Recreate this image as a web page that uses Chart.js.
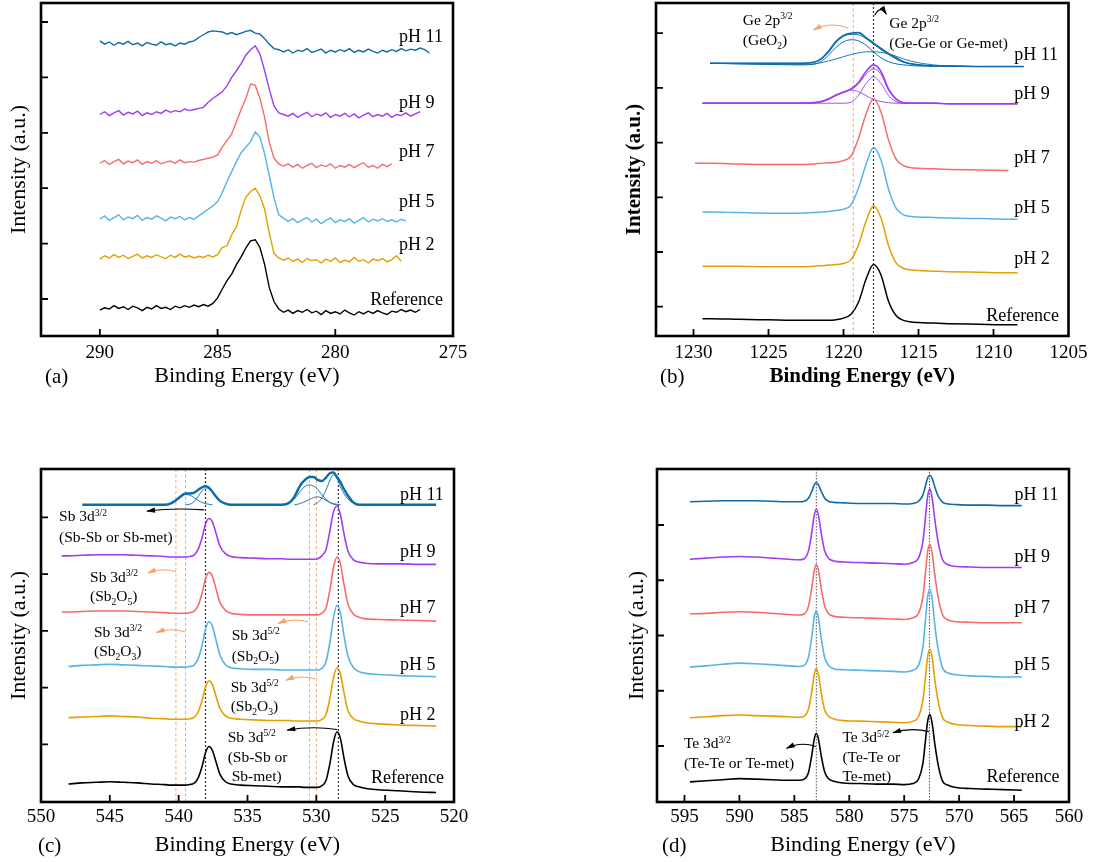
<!DOCTYPE html>
<html>
<head>
<meta charset="utf-8">
<script src="https://cdn.jsdelivr.net/npm/chart.js@4.4.1/dist/chart.umd.min.js"></script>
<style>
  html, body { margin: 0; padding: 0; background: #fff; }
  #wrap { position: relative; width: 1093px; height: 862px; overflow: hidden; }
  #wrap canvas { position: absolute; }
</style>
</head>
<body>
<div id="wrap">
  <canvas id="panelA" width="546" height="431" style="left:0px;top:0px"></canvas>
  <canvas id="panelB" width="547" height="431" style="left:546px;top:0px"></canvas>
  <canvas id="panelC" width="546" height="431" style="left:0px;top:431px"></canvas>
  <canvas id="panelD" width="547" height="431" style="left:546px;top:431px"></canvas>
</div>
<script>
// ---------- (a) C 1s region ----------
const aEnergy = [290.0,289.8,289.6,289.4,289.2,289.0,288.8,288.6,288.4,288.2,
  288.0,287.8,287.6,287.4,287.2,287.0,286.8,286.6,286.4,286.2,
  286.0,285.8,285.6,285.4,285.2,285.0,284.8,284.6,284.4,284.2,
  284.0,283.8,283.6,283.4,283.2,283.0,282.8,282.6,282.4,282.2,
  282.0,281.8,281.6,281.4,281.2,281.0,280.8,280.6,280.4,280.2,
  280.0,279.8,279.6,279.4,279.2,279.0,278.8,278.6,278.4,278.2,
  278.0,277.8,277.6,277.4,277.2,277.0,276.8,276.6,276.4,276.2,276.0];
const aRef = [-0.20,-0.16,-0.18,-0.12,-0.17,-0.14,-0.19,-0.13,-0.16,-0.21,
  -0.15,-0.18,-0.12,-0.17,-0.15,-0.19,-0.13,-0.16,-0.12,-0.15,
  -0.11,-0.14,-0.10,-0.13,-0.08,0.02,0.18,0.33,0.45,0.62,
  0.76,0.92,1.05,1.07,0.93,0.62,0.20,-0.05,-0.18,-0.24,
  -0.20,-0.26,-0.21,-0.24,-0.19,-0.25,-0.22,-0.28,-0.21,-0.26,
  -0.23,-0.27,-0.20,-0.25,-0.29,-0.23,-0.27,-0.22,-0.26,-0.21,
  -0.25,-0.28,-0.22,-0.24,-0.19,-0.23,-0.20,-0.24,-0.19];
const aPH2 = [0.72,0.78,0.74,0.80,0.75,0.79,0.73,0.77,0.81,0.74,
  0.78,0.75,0.80,0.76,0.73,0.79,0.75,0.81,0.76,0.78,
  0.74,0.77,0.75,0.79,0.76,0.80,0.93,0.96,1.16,1.30,
  1.60,1.84,1.94,2.00,1.86,1.62,1.18,0.82,0.74,0.70,
  0.74,0.68,0.72,0.66,0.73,0.69,0.71,0.65,0.72,0.68,
  0.74,0.66,0.70,0.67,0.75,0.68,0.71,0.65,0.72,0.69,
  0.73,0.67,0.71,0.78,0.68];
const aPH5 = [1.44,1.50,1.42,1.47,1.52,1.43,1.48,1.45,1.51,1.42,
  1.47,1.44,1.50,1.46,1.41,1.48,1.45,1.49,1.43,1.47,
  1.44,1.50,1.56,1.62,1.68,1.76,1.92,2.12,2.30,2.48,
  2.64,2.74,2.84,3.02,2.92,2.62,2.22,1.82,1.52,1.46,
  1.40,1.45,1.38,1.43,1.47,1.39,1.44,1.36,1.42,1.46,
  1.38,1.43,1.40,1.45,1.37,1.42,1.47,1.39,1.44,1.41,
  1.45,1.40,1.43,1.39,1.44,1.41];
const aPH7 = [2.45,2.50,2.43,2.48,2.52,2.44,2.49,2.46,2.51,2.43,
  2.48,2.45,2.50,2.44,2.47,2.49,2.45,2.51,2.46,2.48,
  2.47,2.50,2.52,2.54,2.56,2.60,2.74,2.86,2.98,3.20,
  3.42,3.62,3.88,3.86,3.62,3.28,2.82,2.54,2.44,2.40,
  2.44,2.38,2.43,2.36,2.41,2.45,2.37,2.42,2.39,2.44,
  2.36,2.41,2.38,2.43,2.37,2.42,2.46,2.38,2.41,2.36,
  2.43,2.39,2.44];
const aPH9 = [3.33,3.38,3.31,3.36,3.40,3.32,3.37,3.34,3.39,3.31,
  3.36,3.33,3.38,3.35,3.41,3.37,3.40,3.38,3.43,3.40,
  3.42,3.44,3.46,3.55,3.62,3.68,3.74,3.85,4.00,4.12,
  4.25,4.40,4.50,4.57,4.42,4.12,3.78,3.48,3.36,3.33,
  3.30,3.35,3.28,3.33,3.37,3.29,3.34,3.31,3.36,3.28,
  3.33,3.30,3.35,3.29,3.34,3.27,3.32,3.36,3.29,3.33,
  3.30,3.35,3.28,3.33,3.31,3.36,3.30,3.34,3.38];
const aPH11 = [4.66,4.60,4.64,4.58,4.63,4.60,4.65,4.59,4.62,4.57,
  4.63,4.60,4.58,4.64,4.59,4.61,4.57,4.62,4.60,4.64,
  4.66,4.72,4.77,4.82,4.84,4.83,4.82,4.78,4.81,4.77,
  4.80,4.83,4.85,4.80,4.78,4.70,4.60,4.52,4.50,4.46,
  4.50,4.44,4.49,4.47,4.52,4.45,4.48,4.51,4.44,4.49,
  4.46,4.50,4.47,4.52,4.45,4.49,4.46,4.51,4.47,4.44,
  4.49,4.46,4.50,4.47,4.52,4.48,4.51,4.49,4.53,4.50,4.44];

// ---------- (b) Ge 2p3/2 region ----------
const bEnergy = [1229.9,1229.4,1228.9,1227,1225,1223,1222,1221.5,1221,1220.5,1220,1219.5,1219,
  1218.5,1218,1217.5,1217,1216.5,1216,1215.5,1215,1214,1213,1211,1209,1208.4,1208.0];
const bRef = [null,-0.22,-0.22,-0.23,-0.24,-0.25,-0.25,-0.25,-0.25,-0.24,-0.21,-0.14,0.08,
  0.50,0.77,0.58,0.10,-0.16,-0.25,-0.28,-0.29,-0.30,-0.31,-0.32,-0.33,-0.33,null];
const bPH2 = [null,0.74,0.74,0.74,0.73,0.73,0.74,0.75,0.76,0.77,0.79,0.86,1.13,
  1.56,1.84,1.62,1.12,0.80,0.70,0.67,0.66,0.65,0.64,0.63,0.62,0.62,null];
const bPH5 = [null,1.73,1.73,1.72,1.71,1.71,1.72,1.73,1.74,1.76,1.78,1.86,2.17,
  2.60,2.91,2.68,2.15,1.80,1.68,1.65,1.64,1.63,1.62,1.61,1.60,1.60,null];
const bPH7 = [2.62,2.62,2.62,2.61,2.60,2.60,2.61,2.62,2.63,2.64,2.67,2.75,3.08,
  3.52,3.80,3.56,3.05,2.70,2.58,2.54,2.53,2.52,2.51,2.50,2.49,null,null];
const bPH9 = [null,3.72,3.72,3.72,3.72,3.72,3.73,3.75,3.80,3.87,3.92,3.98,4.10,
  4.30,4.42,4.30,3.98,3.80,3.73,3.72,3.72,3.72,3.71,3.71,3.71,3.71,null];
const bPH9Fit = [null,3.72,3.72,3.72,3.72,3.72,3.73,3.75,3.79,3.86,3.92,3.97,4.07,
  4.25,4.35,4.25,3.96,3.79,3.73,3.72,3.72,3.72,3.71,3.71,3.71,3.71,null];
const bPH9Oxide = [null,3.72,3.72,3.72,3.72,3.72,3.72,3.74,3.79,3.86,3.93,3.96,3.93,
  3.86,3.79,3.75,3.73,3.72,3.72,3.72,3.72,3.72,3.71,3.71,3.71,3.71,null];
const bPH9Metal = [null,3.72,3.72,3.72,3.72,3.72,3.72,3.72,3.72,3.72,3.72,3.74,3.86,
  4.08,4.20,4.08,3.86,3.75,3.72,3.72,3.72,3.72,3.71,3.71,3.71,3.71,null];
const bPH11 = [null,null,4.45,4.45,4.45,4.45,4.47,4.53,4.67,4.85,4.96,5.00,5.01,
  4.92,4.82,4.72,4.63,4.55,4.48,4.44,4.42,4.40,4.40,4.39,4.39,4.39,4.39];
const bPH11Fit = [null,null,4.45,4.45,4.45,4.45,4.47,4.52,4.65,4.83,4.94,4.98,4.97,
  4.90,4.80,4.70,4.61,4.53,4.47,4.44,4.42,4.40,4.40,4.39,4.39,4.39,4.39];
const bPH11Oxide = [null,null,4.45,4.44,4.43,4.42,4.43,4.48,4.60,4.74,4.84,4.88,4.86,
  4.78,4.66,4.55,4.48,4.44,4.42,4.41,4.40,4.40,4.40,4.39,4.39,4.39,4.39];
const bPH11Metal = [null,null,4.45,4.44,4.43,4.43,4.44,4.46,4.49,4.53,4.57,4.61,4.64,
  4.66,4.66,4.65,4.62,4.58,4.53,4.49,4.46,4.42,4.40,4.39,4.39,4.39,4.39];

// ---------- (c) Sb 3d / O 1s region ----------
const cEnergy = [548.5,548.0,547.0,546.0,545.0,544.0,543.0,542.0,541.0,540.6,
  540.2,539.8,539.5,539.2,538.9,538.6,538.3,538.05,537.8,537.55,
  537.3,537.0,536.6,536.2,535.5,534.5,533.5,532.5,532.0,531.6,
  531.2,530.9,530.5,530.2,529.9,529.6,529.3,529.0,528.75,528.5,
  528.25,528.0,527.7,527.3,526.9,526.4,525.5,524.0,522.5,521.3];
const cRef = [null,-0.70,-0.68,-0.67,-0.66,-0.67,-0.68,-0.70,-0.71,-0.72,
  -0.72,-0.72,-0.72,-0.71,-0.69,-0.60,-0.39,-0.15,-0.04,-0.11,
  -0.30,-0.53,-0.66,-0.70,-0.72,-0.73,-0.74,-0.75,-0.75,-0.75,
  -0.75,-0.76,-0.76,-0.76,-0.76,-0.73,-0.64,-0.32,0.04,0.22,
  0.10,-0.23,-0.56,-0.71,-0.75,-0.78,-0.80,-0.82,-0.84,-0.85];
const cPH2 = [null,0.47,0.48,0.49,0.50,0.49,0.48,0.46,0.45,0.44,
  0.44,0.44,0.44,0.45,0.47,0.56,0.77,1.01,1.12,1.05,
  0.86,0.63,0.50,0.46,0.44,0.43,0.42,0.42,0.42,0.41,
  0.41,0.41,0.41,0.41,0.41,0.44,0.52,0.83,1.18,1.35,
  1.24,0.92,0.59,0.45,0.41,0.38,0.36,0.34,0.33,0.32];
const cPH5 = [null,1.37,1.39,1.40,1.41,1.40,1.39,1.38,1.37,1.36,
  1.36,1.36,1.36,1.37,1.39,1.50,1.74,2.03,2.16,2.08,
  1.85,1.57,1.40,1.35,1.33,1.32,1.32,1.31,1.31,1.31,
  1.31,1.31,1.31,1.31,1.31,1.34,1.45,1.82,2.24,2.45,
  2.31,1.93,1.55,1.35,1.28,1.25,1.23,1.21,1.20,1.19];
const cPH7 = [2.33,2.33,2.34,2.35,2.35,2.35,2.34,2.33,2.32,2.31,
  2.31,2.31,2.31,2.32,2.34,2.44,2.66,2.92,3.03,2.96,
  2.75,2.50,2.36,2.31,2.29,2.28,2.28,2.28,2.28,2.28,
  2.28,2.28,2.28,2.28,2.28,2.31,2.40,2.74,3.12,3.30,
  3.18,2.83,2.47,2.29,2.24,2.21,2.20,2.19,2.18,2.17];
const cPH9 = [3.32,3.32,3.33,3.34,3.34,3.34,3.33,3.32,3.31,3.30,
  3.30,3.30,3.30,3.31,3.33,3.43,3.64,3.88,3.98,3.92,
  3.73,3.49,3.36,3.31,3.29,3.28,3.27,3.27,3.26,3.26,
  3.26,3.26,3.26,3.26,3.27,3.32,3.43,3.78,4.10,4.20,
  4.05,3.72,3.40,3.25,3.21,3.19,3.18,3.18,3.17,3.17];
const cPH11 = [null,null,4.22,4.22,4.22,4.22,4.22,4.22,4.22,4.24,
  4.30,4.38,4.42,4.42,4.43,4.48,4.53,4.55,4.52,4.45,
  4.37,4.29,4.24,4.22,4.22,4.22,4.22,4.22,4.25,4.36,
  4.55,4.64,4.71,4.71,4.66,4.64,4.70,4.78,4.79,4.71,
  4.62,4.50,4.38,4.26,4.22,4.22,4.22,4.22,4.22,4.22];
// fitted components of pH 11, each starting at the given cEnergy index
const cPH11Comp1 = [4.22,4.24,4.29,4.36,4.40,4.39,4.35,4.30,4.26,4.24,4.23,4.22];
const cPH11Comp2 = [4.22,4.23,4.27,4.36,4.47,4.52,4.50,4.44,4.36,4.28,4.24,4.22,4.22];
const cPH11Comp3 = [4.22,4.24,4.32,4.45,4.53,4.57,4.55,4.49,4.40,4.32,4.26,4.23,4.22];
const cPH11Comp4 = [4.22,4.24,4.27,4.31,4.35,4.36,4.34,4.30,4.26,4.24,4.23,4.22];
const cPH11Comp5 = [4.22,4.26,4.34,4.48,4.66,4.75,4.68,4.54,4.42,4.32,4.25,4.22];
const cCompStart = [8, 12, 27, 29, 33];

// ---------- (d) Te 3d region ----------
const dEnergy = [594.5,593,591.5,590,588.5,587,585.5,584.6,584.1,583.7,
  583.4,583.2,583.0,582.8,582.55,582.25,581.9,581.4,580.5,579,
  577.5,576,575,574.2,573.7,573.3,573.05,572.85,572.65,572.45,
  572.2,571.9,571.5,571,570.3,569,567.5,566,564.3];
const dRef = [-0.65,-0.63,-0.61,-0.59,-0.60,-0.61,-0.62,-0.62,-0.60,-0.47,
  -0.15,0.11,0.23,0.12,-0.18,-0.46,-0.59,-0.64,-0.67,-0.68,
  -0.69,-0.69,-0.70,-0.68,-0.60,-0.32,0.13,0.47,0.57,0.40,
  0.02,-0.35,-0.64,-0.71,-0.75,-0.77,-0.78,-0.79,-0.80];
const dPH2 = [0.51,0.53,0.55,0.56,0.55,0.54,0.53,0.52,0.54,0.68,
  1.00,1.28,1.40,1.28,0.96,0.66,0.54,0.49,0.46,0.45,
  0.44,0.43,0.42,0.45,0.53,0.82,1.28,1.64,1.75,1.59,
  1.18,0.80,0.51,0.43,0.39,0.37,0.36,0.35,0.35];
const dPH5 = [1.43,1.45,1.48,1.50,1.49,1.47,1.45,1.44,1.46,1.62,
  2.00,2.32,2.45,2.31,1.95,1.61,1.46,1.40,1.38,1.37,
  1.36,1.35,1.34,1.37,1.46,1.79,2.31,2.72,2.84,2.65,
  2.17,1.74,1.41,1.32,1.29,1.27,1.26,1.25,1.25];
const dPH7 = [2.39,2.40,2.42,2.43,2.42,2.40,2.38,2.37,2.39,2.54,
  2.88,3.16,3.29,3.17,2.85,2.54,2.40,2.35,2.33,2.32,
  2.31,2.30,2.29,2.32,2.40,2.70,3.17,3.54,3.65,3.48,
  3.08,2.68,2.37,2.28,2.25,2.24,2.23,2.23,2.23];
const dPH9 = [3.38,3.40,3.42,3.43,3.42,3.40,3.38,3.37,3.39,3.54,
  3.88,4.16,4.29,4.17,3.85,3.54,3.40,3.35,3.33,3.32,
  3.31,3.30,3.29,3.32,3.40,3.70,4.17,4.54,4.65,4.48,
  4.08,3.68,3.37,3.28,3.25,3.24,3.23,3.23,3.23];
const dPH11 = [4.42,4.43,4.44,4.44,4.44,4.43,4.42,4.42,4.43,4.49,
  4.61,4.72,4.77,4.72,4.61,4.49,4.43,4.41,4.40,4.39,
  4.39,4.39,4.38,4.39,4.43,4.54,4.72,4.86,4.90,4.84,
  4.68,4.52,4.41,4.38,4.37,4.36,4.36,4.35,4.35];

const seriesNames = ['Reference', 'pH 2', 'pH 5', 'pH 7', 'pH 9', 'pH 11'];

const COLORS = {
  ref: '#000000', ph2: '#E69F00', ph5: '#56B4E9',
  ph7: '#F76B6B', ph9: '#A03CF2', ph11: '#0B6CAC',
  guideOrange: '#F5A46E', guideBlack: '#333333'
};
const FONT = '"Liberation Serif", "Times New Roman", Times, serif';

function series(energy, values, color, width, smooth) {
  const pts = values.map((v, i) => ({ x: energy[i], y: v }));
  const ds = { data: pts, borderColor: color, borderWidth: width, pointRadius: 0, fill: false };
  if (smooth) ds.cubicInterpolationMode = 'monotone';
  else ds.tension = 0;
  return ds;
}

function parseRich(str) {
  const out = [];
  const re = /\^\{([^}]*)\}|_\{([^}]*)\}|([^^_]+)/g;
  let m;
  while ((m = re.exec(str))) {
    if (m[1] !== undefined) out.push([m[1], 'sup']);
    else if (m[2] !== undefined) out.push([m[2], 'sub']);
    else out.push([m[3], '']);
  }
  return out;
}

function drawRich(ctx, x, y, str, size) {
  let cx = x;
  parseRich(str).forEach(([txt, mode]) => {
    let s = size, dy = 0;
    if (mode === 'sup') { s = size * 0.62; dy = -size * 0.36; }
    if (mode === 'sub') { s = size * 0.62; dy = size * 0.22; }
    ctx.font = s + 'px ' + FONT;
    ctx.fillText(txt, cx, y + dy);
    cx += ctx.measureText(txt).width;
  });
}

function drawArrow(ctx, x1, y1, x2, y2, bulge, color) {
  const mx = (x1 + x2) / 2, my = (y1 + y2) / 2 - bulge;
  ctx.strokeStyle = color; ctx.fillStyle = color;
  ctx.lineWidth = 1.1; ctx.setLineDash([]);
  ctx.beginPath(); ctx.moveTo(x1, y1); ctx.quadraticCurveTo(mx, my, x2, y2); ctx.stroke();
  const ang = Math.atan2(y2 - my, x2 - mx);
  const L = 8, W = 2.6;
  ctx.beginPath();
  ctx.moveTo(x2 + Math.cos(ang), y2 + Math.sin(ang));
  ctx.lineTo(x2 - L * Math.cos(ang) + W * Math.sin(ang), y2 - L * Math.sin(ang) - W * Math.cos(ang));
  ctx.lineTo(x2 - L * Math.cos(ang) - W * Math.sin(ang), y2 - L * Math.sin(ang) + W * Math.cos(ang));
  ctx.closePath(); ctx.fill();
}

const decor = {
  id: 'decor',
  beforeDatasetsDraw(chart, args, opts) {
    const { ctx, chartArea: a, scales: { x } } = chart;
    ctx.save();
    (opts.vlines || []).forEach(v => {
      const px = x.getPixelForValue(v.at);
      ctx.strokeStyle = v.color; ctx.lineWidth = v.width; ctx.setLineDash(v.dash);
      ctx.beginPath(); ctx.moveTo(px, a.top); ctx.lineTo(px, a.bottom); ctx.stroke();
    });
    ctx.restore();
  },
  afterDatasetsDraw(chart, args, opts) {
    const { ctx, chartArea: a, scales: { x, y } } = chart;
    ctx.save();
    ctx.setLineDash([]);
    ctx.strokeStyle = '#000'; ctx.lineWidth = 2.6;
    ctx.strokeRect(a.left, a.top, a.right - a.left, a.bottom - a.top);
    // inward tick marks
    ctx.lineWidth = 1.8;
    ctx.beginPath();
    x.ticks.forEach(t => {
      const px = x.getPixelForValue(t.value);
      if (px < a.left + 3 || px > a.right - 3) return;
      ctx.moveTo(px, a.bottom); ctx.lineTo(px, a.bottom - 7);
    });
    y.ticks.forEach(t => {
      const py = y.getPixelForValue(t.value);
      if (py < a.top + 3 || py > a.bottom - 3) return;
      ctx.moveTo(a.left, py); ctx.lineTo(a.left + 7, py);
    });
    ctx.stroke();

    ctx.fillStyle = '#000'; ctx.textAlign = 'left'; ctx.textBaseline = 'alphabetic';
    (opts.labels || []).forEach(l => {
      ctx.font = '18px ' + FONT;
      ctx.fillText(l.text, x.getPixelForValue(l.x), y.getPixelForValue(l.y));
    });
    (opts.notes || []).forEach(n => {
      drawRich(ctx, x.getPixelForValue(n.x), y.getPixelForValue(n.y), n.text, 15.5);
    });
    (opts.arrows || []).forEach(ar => {
      drawArrow(ctx, x.getPixelForValue(ar.from[0]), y.getPixelForValue(ar.from[1]),
        x.getPixelForValue(ar.to[0]), y.getPixelForValue(ar.to[1]), ar.bulge, ar.color);
    });
    ctx.fillStyle = '#000';
    ctx.font = '21px ' + FONT;
    ctx.fillText(opts.tag.text, opts.tag.x, opts.tag.y);
    ctx.restore();
  }
};

function makePanel(id, cfg) {
  const titleFont = { family: FONT, size: cfg.bold ? 21 : 22, weight: cfg.bold ? 'bold' : 'normal' };
  return new Chart(document.getElementById(id), {
    type: 'line',
    data: { datasets: cfg.datasets },
    options: {
      responsive: false,
      animation: false,
      devicePixelRatio: 1,
      layout: { padding: cfg.padding },
      plugins: { legend: { display: false }, tooltip: { enabled: false }, decor: cfg.decor },
      scales: {
        x: {
          type: 'linear', reverse: true, min: cfg.xMin, max: cfg.xMax,
          grid: { display: false, drawTicks: false }, border: { display: false },
          ticks: { stepSize: 5, includeBounds: false, autoSkip: false, maxRotation: 0,
                   padding: cfg.tickPad, color: '#000', font: { family: FONT, size: 19 },
                   callback: v => String(v) },
          title: { display: true, text: 'Binding Energy (eV)', color: '#000', font: titleFont,
                   padding: { top: 0, bottom: cfg.xTitlePad } },
          afterFit(s) { s.height = cfg.xH; s.paddingLeft = 0; s.paddingRight = 0; }
        },
        y: {
          min: cfg.yMin, max: cfg.yMax,
          grid: { display: false, drawTicks: false }, border: { display: false },
          ticks: { display: false, stepSize: 1, includeBounds: false },
          title: { display: true, text: 'Intensity (a.u.)', color: '#000', font: titleFont,
                   padding: { top: cfg.yTitlePad, bottom: 0 } },
          afterFit(s) { s.width = cfg.yW; }
        }
      }
    },
    plugins: [decor]
  });
}

const orangeLine = at => ({ at, color: COLORS.guideOrange, width: 1, dash: [3, 2.5] });
const blackLine = at => ({ at, color: COLORS.guideBlack, width: 1.2, dash: [2, 2] });

// (a)
makePanel('panelA', {
  xMin: 275, xMax: 292.5, yMin: -0.668, yMax: 5.343,
  padding: { left: 0, top: 3, right: 93, bottom: 0 },
  xH: 95, yW: 41, tickPad: 6, xTitlePad: 41.5, yTitlePad: 5.8,
  datasets: [
    series(aEnergy, aRef, COLORS.ref, 1.4),
    series(aEnergy, aPH2, COLORS.ph2, 1.4),
    series(aEnergy, aPH5, COLORS.ph5, 1.4),
    series(aEnergy, aPH7, COLORS.ph7, 1.4),
    series(aEnergy, aPH9, COLORS.ph9, 1.4),
    series(aEnergy, aPH11, COLORS.ph11, 1.4)
  ],
  decor: {
    tag: { text: '(a)', x: 45, y: 383 },
    labels: [
      { text: seriesNames[5], x: 277.29, y: 4.64 },
      { text: seriesNames[4], x: 277.29, y: 3.45 },
      { text: seriesNames[3], x: 277.29, y: 2.56 },
      { text: seriesNames[2], x: 277.29, y: 1.66 },
      { text: seriesNames[1], x: 277.29, y: 0.88 },
      { text: seriesNames[0], x: 278.52, y: -0.11 }
    ]
  }
});

// (b)
makePanel('panelB', {
  xMin: 1205, xMax: 1232.5, yMin: -0.536, yMax: 5.552, bold: true,
  padding: { left: 0, top: 3, right: 24.5, bottom: 0 },
  xH: 95, yW: 110, tickPad: 6, xTitlePad: 41.8, yTitlePad: 76.4,
  datasets: [
    series(bEnergy, bRef, COLORS.ref, 1.5, true),
    series(bEnergy, bPH2, COLORS.ph2, 1.5, true),
    series(bEnergy, bPH5, COLORS.ph5, 1.5, true),
    series(bEnergy, bPH7, COLORS.ph7, 1.5, true),
    series(bEnergy, bPH9, COLORS.ph9, 1.6, true),
    series(bEnergy, bPH9Fit, COLORS.ph9, 1.0, true),
    series(bEnergy, bPH9Oxide, COLORS.ph9, 0.9, true),
    series(bEnergy, bPH9Metal, COLORS.ph9, 0.9, true),
    series(bEnergy, bPH11, COLORS.ph11, 1.6, true),
    series(bEnergy, bPH11Fit, COLORS.ph11, 1.0, true),
    series(bEnergy, bPH11Oxide, COLORS.ph11, 1.0, true),
    series(bEnergy, bPH11Metal, COLORS.ph11, 0.9, true)
  ],
  decor: {
    tag: { text: '(b)', x: 114, y: 383 },
    vlines: [orangeLine(1219.35), blackLine(1218.0)],
    labels: [
      { text: seriesNames[5], x: 1208.62, y: 4.51 },
      { text: seriesNames[4], x: 1208.62, y: 3.80 },
      { text: seriesNames[3], x: 1208.62, y: 2.63 },
      { text: seriesNames[2], x: 1208.62, y: 1.72 },
      { text: seriesNames[1], x: 1208.62, y: 0.78 },
      { text: seriesNames[0], x: 1210.49, y: -0.26 }
    ],
    notes: [
      { text: 'Ge 2p^{3/2}', x: 1226.71, y: 5.15 },
      { text: '(GeO_{2})', x: 1226.71, y: 4.78 },
      { text: 'Ge 2p^{3/2}', x: 1216.95, y: 5.10 },
      { text: '(Ge-Ge or Ge-met)', x: 1216.95, y: 4.73 }
    ],
    arrows: [
      { from: [1219.66, 5.09], to: [1222.0, 5.06], bulge: 8, color: COLORS.guideOrange },
      { from: [1217.92, 5.33], to: [1217.15, 5.35], bulge: 10, color: '#000' }
    ]
  }
});

// (c)
makePanel('panelC', {
  xMin: 520, xMax: 550, yMin: -1.017, yMax: 4.851,
  padding: { left: 0, top: 38, right: 92, bottom: 0 },
  xH: 60, yW: 41, tickPad: 4, xTitlePad: 3.5, yTitlePad: 5.8,
  datasets: [
    series(cEnergy, cRef, COLORS.ref, 1.6, true),
    series(cEnergy, cPH2, COLORS.ph2, 1.6, true),
    series(cEnergy, cPH5, COLORS.ph5, 1.6, true),
    series(cEnergy, cPH7, COLORS.ph7, 1.6, true),
    series(cEnergy, cPH9, COLORS.ph9, 1.6, true),
    series(cEnergy, cPH11, COLORS.ph11, 2.4, true),
    series(cEnergy.slice(cCompStart[0]), cPH11Comp1, COLORS.ph11, 0.9, true),
    series(cEnergy.slice(cCompStart[1]), cPH11Comp2, COLORS.ph11, 0.9, true),
    series(cEnergy.slice(cCompStart[2]), cPH11Comp3, COLORS.ph11, 0.9, true),
    series(cEnergy.slice(cCompStart[3]), cPH11Comp4, COLORS.ph11, 0.9, true),
    series(cEnergy.slice(cCompStart[4]), cPH11Comp5, COLORS.ph11, 0.9, true)
  ],
  decor: {
    tag: { text: '(c)', x: 38, y: 421 },
    vlines: [orangeLine(540.2), orangeLine(539.5), orangeLine(530.5), orangeLine(530.0),
             blackLine(538.05), blackLine(528.4)],
    labels: [
      { text: seriesNames[5], x: 523.93, y: 4.30 },
      { text: seriesNames[4], x: 523.93, y: 3.30 },
      { text: seriesNames[3], x: 523.93, y: 2.31 },
      { text: seriesNames[2], x: 523.93, y: 1.31 },
      { text: seriesNames[1], x: 523.93, y: 0.43 },
      { text: seriesNames[0], x: 526.03, y: -0.68 }
    ],
    notes: [
      { text: 'Sb 3d^{3/2}', x: 548.69, y: 3.93 },
      { text: '(Sb-Sb or Sb-met)', x: 548.69, y: 3.56 },
      { text: 'Sb 3d^{3/2}', x: 546.44, y: 2.86 },
      { text: '(Sb_{2}O_{5})', x: 546.44, y: 2.52 },
      { text: 'Sb 3d^{3/2}', x: 546.15, y: 1.89 },
      { text: '(Sb_{2}O_{3})', x: 546.15, y: 1.55 },
      { text: 'Sb 3d^{5/2}', x: 536.15, y: 1.84 },
      { text: '(Sb_{2}O_{5})', x: 536.15, y: 1.47 },
      { text: 'Sb 3d^{5/2}', x: 536.22, y: 0.92 },
      { text: '(Sb_{2}O_{3})', x: 536.22, y: 0.58 },
      { text: 'Sb 3d^{5/2}', x: 536.44, y: 0.04 },
      { text: '(Sb-Sb or', x: 536.44, y: -0.31 },
      { text: 'Sb-met)', x: 536.15, y: -0.65 }
    ],
    arrows: [
      { from: [538.16, 4.13], to: [542.3, 4.11], bulge: 3, color: '#000' },
      { from: [540.2, 3.04], to: [542.23, 3.02], bulge: 5, color: COLORS.guideOrange },
      { from: [539.54, 1.98], to: [541.6, 1.97], bulge: 5, color: COLORS.guideOrange },
      { from: [530.59, 2.16], to: [532.77, 2.13], bulge: 5, color: COLORS.guideOrange },
      { from: [530.1, 1.15], to: [532.2, 1.13], bulge: 5, color: COLORS.guideOrange },
      { from: [528.48, 0.26], to: [532.11, 0.25], bulge: 4, color: '#000' }
    ]
  }
});

// (d)
makePanel('panelD', {
  xMin: 560, xMax: 597.5, yMin: -1.0136, yMax: 5.0136,
  padding: { left: 0, top: 38, right: 24, bottom: 0 },
  xH: 60, yW: 111, tickPad: 4, xTitlePad: 3.5, yTitlePad: 77.8,
  datasets: [
    series(dEnergy, dRef, COLORS.ref, 1.6, true),
    series(dEnergy, dPH2, COLORS.ph2, 1.6, true),
    series(dEnergy, dPH5, COLORS.ph5, 1.6, true),
    series(dEnergy, dPH7, COLORS.ph7, 1.6, true),
    series(dEnergy, dPH9, COLORS.ph9, 1.6, true),
    series(dEnergy, dPH11, COLORS.ph11, 1.6, true)
  ],
  decor: {
    tag: { text: '(d)', x: 116, y: 421 },
    vlines: [
      { at: 583.0, color: '#555555', width: 1, dash: [1.5, 1.5] },
      { at: 572.7, color: '#555555', width: 1, dash: [1.5, 1.5] }
    ],
    labels: [
      { text: seriesNames[5], x: 564.95, y: 4.45 },
      { text: seriesNames[4], x: 564.95, y: 3.33 },
      { text: seriesNames[3], x: 564.95, y: 2.41 },
      { text: seriesNames[2], x: 564.95, y: 1.38 },
      { text: seriesNames[1], x: 564.95, y: 0.34 },
      { text: seriesNames[0], x: 567.5, y: -0.65 }
    ],
    notes: [
      { text: 'Te 3d^{3/2}', x: 595.05, y: -0.04 },
      { text: '(Te-Te or Te-met)', x: 595.05, y: -0.40 },
      { text: 'Te 3d^{5/2}', x: 580.62, y: 0.07 },
      { text: '(Te-Te or', x: 580.62, y: -0.29 },
      { text: 'Te-met)', x: 580.62, y: -0.63 }
    ],
    arrows: [
      { from: [583.05, -0.01], to: [585.7, -0.04], bulge: 6, color: '#000' },
      { from: [572.75, 0.26], to: [576.02, 0.24], bulge: 5, color: '#000' }
    ]
  }
});
</script>
</body>
</html>
